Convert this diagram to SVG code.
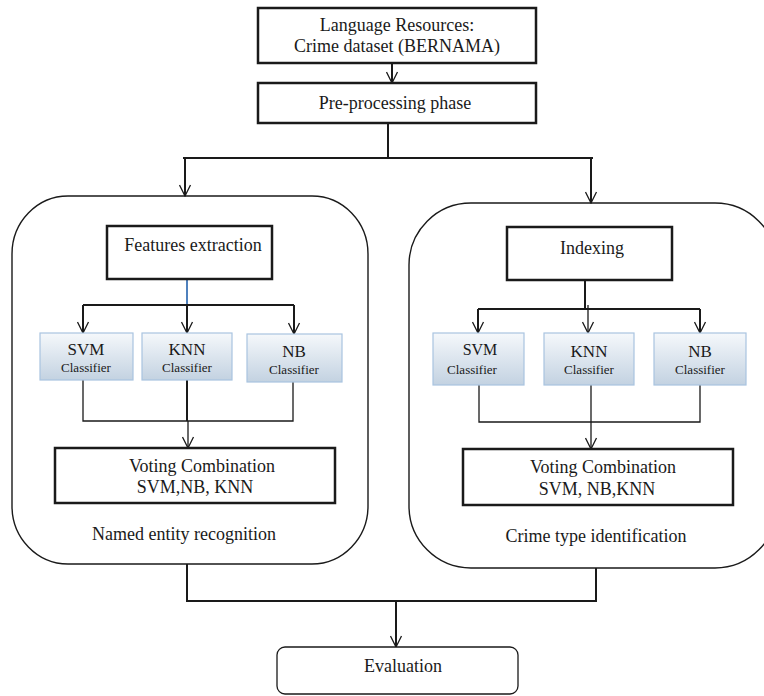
<svg xmlns="http://www.w3.org/2000/svg" width="764" height="696" viewBox="0 0 764 696">
<style>
text{font-family:"Liberation Serif","Times New Roman",serif;fill:#1a1a1a;text-anchor:middle}
.box{fill:#fff;stroke:#1a1a1a;stroke-width:2.5}
.big{fill:#fff;stroke:#1a1a1a;stroke-width:1.4}
.cls{fill:url(#g);stroke:#a9c4e0;stroke-width:1.2}
.c{fill:none;stroke:#1a1a1a;stroke-width:2}
.t{fill:none;stroke:#1a1a1a;stroke-width:1.3}
.f18{font-size:18px}
.f17{font-size:17px}
.f16{font-size:16px}
.f13{font-size:13px}
</style>
<defs>
<linearGradient id="g" x1="0" y1="0" x2="0" y2="1">
<stop offset="0" stop-color="#f5f8fb"/>
<stop offset="1" stop-color="#c3d2e1"/>
</linearGradient>
<marker id="a" markerWidth="13" markerHeight="13" refX="12" refY="6.5" orient="auto" markerUnits="userSpaceOnUse" viewBox="0 0 13 13">
<polyline points="1,1 12,6.5 1,12" fill="none" stroke="#1a1a1a" stroke-width="1.3"/>
</marker>
</defs>

<g id="ner-container"><rect class="big" x="12" y="196" width="356" height="368" rx="56" ry="58"/></g>
<g id="cti-container"><rect class="big" x="409" y="203" width="368" height="365" rx="62" ry="62"/></g>

<g id="connectors">
<line class="c" x1="392" y1="63" x2="392" y2="83" marker-end="url(#a)"/>
<polyline class="c" points="388,123 388,158"/>
<polyline class="c" points="183,158 593,158"/>
<line class="c" x1="185" y1="158" x2="185" y2="196" marker-end="url(#a)"/>
<line class="c" x1="591" y1="158" x2="591" y2="203" marker-end="url(#a)"/>

<line x1="187" y1="279" x2="187" y2="305" stroke="#4f81bd" stroke-width="2"/>
<polyline class="c" points="83,305 294,305"/>
<line class="c" x1="83" y1="305" x2="83" y2="333" marker-end="url(#a)"/>
<line class="c" x1="187" y1="305" x2="187" y2="333" marker-end="url(#a)"/>
<line class="c" x1="294" y1="305" x2="294" y2="334" marker-end="url(#a)"/>
<polyline class="t" points="83,380 83,421 293,421 293,382"/>
<line class="c" x1="187" y1="380" x2="187" y2="421"/>
<line class="t" x1="188" y1="421" x2="188" y2="448" marker-end="url(#a)"/>

<polyline class="c" points="585,280 585,309"/>
<polyline class="c" points="478,309 700,309"/>
<line class="c" x1="478" y1="309" x2="478" y2="333" marker-end="url(#a)"/>
<line class="t" x1="588" y1="305" x2="588" y2="333" marker-end="url(#a)"/>
<line class="c" x1="700" y1="309" x2="700" y2="333" marker-end="url(#a)"/>
<polyline class="t" points="479,385 479,422 700,422 700,385"/>
<line class="t" x1="591" y1="385" x2="591" y2="449" marker-end="url(#a)"/>

<polyline class="c" points="187,564 187,601 596,601 596,568"/>
<line class="c" x1="396" y1="601" x2="396" y2="647" marker-end="url(#a)"/>
</g>

<g id="language-resources"><rect class="box" x="258" y="8" width="278" height="55"/>
<text class="f18" x="397" y="31">Language Resources:</text>
<text class="f18" x="397" y="52">Crime dataset (BERNAMA)</text></g>

<g id="preprocessing"><rect class="box" x="258" y="83" width="278" height="40"/>
<text class="f18" x="395" y="109">Pre-processing phase</text></g>

<g id="features-extraction"><rect class="box" x="107" y="226" width="165" height="53"/>
<text class="f18" x="193" y="251">Features extraction</text></g>

<g id="indexing"><rect class="box" x="507" y="227" width="165" height="53"/>
<text class="f18" x="592" y="254">Indexing</text></g>

<g id="svm-left"><rect class="cls" x="40" y="333" width="93" height="47"/>
<text class="f17" x="86" y="355">SVM</text><text class="f13" x="86" y="372">Classifier</text></g>
<g id="knn-left"><rect class="cls" x="142" y="333" width="90" height="47"/>
<text class="f17" x="187" y="355">KNN</text><text class="f13" x="187" y="372">Classifier</text></g>
<g id="nb-left"><rect class="cls" x="247" y="334" width="95" height="48"/>
<text class="f17" x="294" y="357">NB</text><text class="f13" x="294" y="374">Classifier</text></g>

<g id="svm-right"><rect class="cls" x="433" y="333" width="91" height="52"/>
<text class="f16" x="480" y="355">SVM</text><text class="f13" x="472" y="374">Classifier</text></g>
<g id="knn-right"><rect class="cls" x="544" y="333" width="90" height="52"/>
<text class="f17" x="589" y="357">KNN</text><text class="f13" x="589" y="374">Classifier</text></g>
<g id="nb-right"><rect class="cls" x="654" y="333" width="92" height="52"/>
<text class="f17" x="700" y="357">NB</text><text class="f13" x="700" y="374">Classifier</text></g>

<g id="voting-left"><rect class="box" x="55" y="448" width="280" height="55"/>
<text class="f18" x="202" y="472">Voting Combination</text>
<text class="f18" x="195" y="493">SVM,NB, KNN</text></g>

<g id="voting-right"><rect class="box" x="463" y="449" width="270" height="56"/>
<text class="f18" x="603" y="473">Voting Combination</text>
<text class="f18" x="597" y="495">SVM, NB,KNN</text></g>

<g id="ner-label"><text class="f18" x="184" y="540">Named entity recognition</text></g>
<g id="cti-label"><text class="f18" x="596" y="542">Crime type identification</text></g>

<g id="evaluation"><rect x="277" y="647" width="241" height="47" rx="8" fill="#fff" stroke="#1a1a1a" stroke-width="1.3"/>
<text class="f18" x="403" y="672">Evaluation</text></g>
</svg>
